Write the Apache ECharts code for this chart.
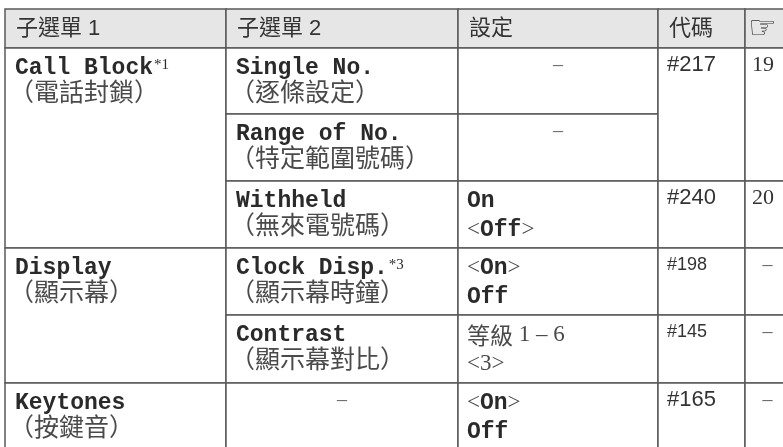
<!DOCTYPE html>
<html>
<head>
<meta charset="utf-8">
<script src="https://cdn.jsdelivr.net/npm/echarts@6/dist/echarts.min.js"></script>
<style>
html,body{margin:0;padding:0;background:#fff;}
#chart{width:783px;height:447px;}
</style>
</head>
<body>
<div id="chart"></div>
<script>
// ---------- DATA ----------
const headers = ['子選單 1', '子選單 2', '設定', '代碼', '☞'];

const subMenu1 = ['Call Block', 'Display', 'Keytones'];
const subMenu1Notes = ['*1', '', ''];
const subMenu1Zh = ['（電話封鎖）', '（顯示幕）', '（按鍵音）'];
const subMenu1Span = [3, 2, 1];

const subMenu2 = ['Single No.', 'Range of No.', 'Withheld', 'Clock Disp.', 'Contrast', '–'];
const subMenu2Notes = ['', '', '', '*3', '', ''];
const subMenu2Zh = ['（逐條設定）', '（特定範圍號碼）', '（無來電號碼）', '（顯示幕時鐘）', '（顯示幕對比）', ''];

const settings = [['–'], ['–'], ['On', '<Off>'], ['<On>', 'Off'], ['等級 1 – 6', '<3>'], ['<On>', 'Off']];

const codes = ['#217', '#240', '#198', '#145', '#165'];
const codeSpan = [2, 1, 1, 1, 1];

const pages = ['19', '20', '–', '–', '–'];
const pageSpan = [2, 1, 1, 1, 1];

// ---------- LAYOUT / STYLE ----------
const colEdges = [5, 226, 458, 658, 745, 790];
const rowEdges = [9, 48, 114, 181, 248, 315, 383, 460];
const smallCodeIdx = [2, 3];
const MONO = "'Liberation Mono', 'DejaVu Sans Mono', monospace";
const SERIF = "'Liberation Serif', 'DejaVu Serif', serif";
const SANS = "'Liberation Sans', Arial, sans-serif";
const CJK = "'Noto Sans CJK TC', 'Noto Sans CJK SC', sans-serif";
const MONO_SIZE = 23;
const TXT = '#2a2a2a';
const ZH = '#4a4a4a';
const LINE = '#5a5a5a';

// ---------- BUILD CELLS ----------
const cells = [];
headers.forEach((h, c) => cells.push({col: c, row: 0, span: 1, header: true, lines: [{kind: 'head', text: h}]}));
let r = 1;
subMenu1.forEach((t, i) => {
  cells.push({col: 0, row: r, span: subMenu1Span[i], lines: [{kind: 'en', text: t, note: subMenu1Notes[i]}, {kind: 'zh', text: subMenu1Zh[i]}]});
  r += subMenu1Span[i];
});
subMenu2.forEach((t, i) => {
  if (t === '–') cells.push({col: 1, row: 1 + i, span: 1, lines: [{kind: 'dash', text: t}]});
  else cells.push({col: 1, row: 1 + i, span: 1, lines: [{kind: 'en', text: t, note: subMenu2Notes[i]}, {kind: 'zh', text: subMenu2Zh[i]}]});
});
settings.forEach((s, i) => {
  if (s.length === 1 && s[0] === '–') cells.push({col: 2, row: 1 + i, span: 1, lines: [{kind: 'dash', text: s[0]}]});
  else cells.push({col: 2, row: 1 + i, span: 1, lines: s.map((t, k) => ({kind: 'set', text: t, k: k}))});
});
r = 1;
codes.forEach((t, i) => {
  cells.push({col: 3, row: r, span: codeSpan[i], lines: [{kind: 'code', text: t, small: smallCodeIdx.indexOf(i) >= 0}]});
  r += codeSpan[i];
});
r = 1;
pages.forEach((t, i) => {
  cells.push({col: 4, row: r, span: pageSpan[i], lines: [{kind: t === '–' ? 'dash' : 'page', text: t}]});
  r += pageSpan[i];
});

function toRich(s) {
  let out = '', cur = null, buf = '';
  const flush = () => { if (buf) out += '{' + cur + '|' + buf + '}'; buf = ''; };
  for (const ch of s) {
    let k;
    if (/[A-Za-z]/.test(ch)) k = 'm';
    else if (/[\u3000-\u9fff\uff00-\uffef]/.test(ch)) k = 'z';
    else k = 's';
    if (k !== cur) { flush(); cur = k; }
    buf += ch;
  }
  flush();
  return out;
}

function renderItem(params, api) {
  const c = cells[api.value(0)];
  const p0 = api.coord([colEdges[c.col], rowEdges[c.row]]);
  const p1 = api.coord([colEdges[c.col + 1], rowEdges[c.row + c.span]]);
  const L = p0[0], T = p0[1], Wd = p1[0] - p0[0], Ht = p1[1] - p0[1];
  const children = [{
    type: 'rect',
    shape: {x: L, y: T, width: Wd, height: Ht},
    style: {fill: c.header ? '#e6e6e6' : '#ffffff', stroke: LINE, lineWidth: 1.5}
  }];
  c.lines.forEach(ln => {
    if (ln.kind === 'head') {
      const hand = ln.text === '☞';
      children.push({type: 'text', x: L + (hand ? 3 : 11), y: T + Ht / 2 + (hand ? 1 : 0),
        style: {text: ln.text, fill: '#333', fontSize: hand ? 32 : 22,
          fontFamily: hand ? "'DejaVu Sans', sans-serif" : SANS + ', ' + CJK, align: 'left', verticalAlign: 'middle'}});
    } else if (ln.kind === 'en') {
      children.push({type: 'text', x: L + 10, y: T + 20,
        style: {text: ln.text, fill: TXT, fontSize: MONO_SIZE, fontWeight: 'bold', fontFamily: MONO, align: 'left', verticalAlign: 'middle'}});
      if (ln.note) {
        children.push({type: 'text', x: L + 10 + ln.text.length * 0.6 * MONO_SIZE + 1, y: T + 10,
          style: {text: ln.note, fill: TXT, fontSize: 15, fontFamily: SERIF, align: 'left', verticalAlign: 'top'}});
      }
    } else if (ln.kind === 'zh') {
      children.push({type: 'text', x: L + 4, y: T + 43,
        style: {text: ln.text, fill: ZH, fontSize: 25, fontFamily: CJK, align: 'left', verticalAlign: 'middle'}});
    } else if (ln.kind === 'dash') {
      children.push({type: 'text', x: L + Wd / 2, y: T + 18,
        style: {text: ln.text, fill: '#666', fontSize: 20, fontFamily: SERIF, align: 'center', verticalAlign: 'middle'}});
    } else if (ln.kind === 'set') {
      children.push({type: 'text', x: L + 9, y: T + (ln.k === 0 ? 20 : 49),
        style: {text: toRich(ln.text), align: 'left', verticalAlign: 'middle',
          rich: {
            m: {fill: TXT, fontSize: MONO_SIZE, fontWeight: 'bold', fontFamily: MONO},
            z: {fill: ZH, fontSize: 23, fontFamily: CJK},
            s: {fill: ZH, fontSize: 23, fontFamily: SERIF}
          }}});
    } else if (ln.kind === 'code') {
      children.push({type: 'text', x: L + 9, y: T + 17,
        style: {text: ln.text, fill: '#333', fontSize: ln.small ? 18 : 22, fontFamily: SANS, align: 'left', verticalAlign: 'middle'}});
    } else if (ln.kind === 'page') {
      children.push({type: 'text', x: L + 7, y: T + 17,
        style: {text: ln.text, fill: '#333', fontSize: 22, fontFamily: SERIF, align: 'left', verticalAlign: 'middle'}});
    }
  });
  return {type: 'group', children: children};
}

const chart = echarts.init(document.getElementById('chart'), null, {renderer: 'canvas'});
chart.setOption({
  animation: false,
  backgroundColor: '#ffffff',
  grid: {left: 0, right: 0, top: 0, bottom: 0},
  xAxis: {type: 'value', min: 0, max: 783, show: false},
  yAxis: {type: 'value', min: 0, max: 447, inverse: true, show: false},
  series: [{
    type: 'custom',
    coordinateSystem: 'cartesian2d',
    clip: false,
    renderItem: renderItem,
    data: cells.map((c, i) => [i, 0])
  }]
});
</script>
</body>
</html>
